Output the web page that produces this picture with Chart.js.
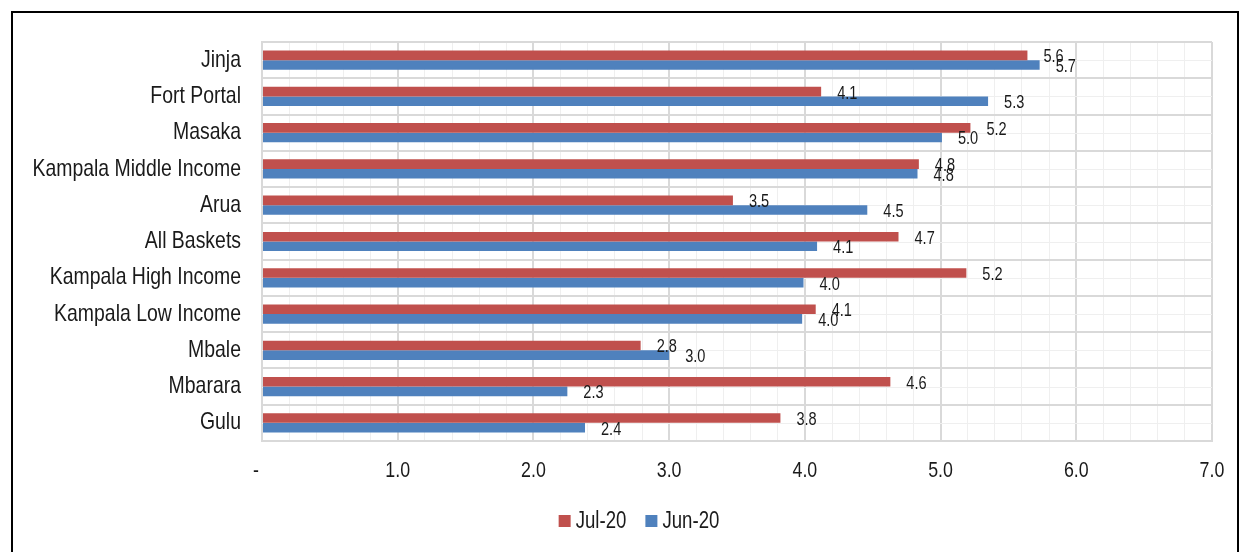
<!DOCTYPE html>
<html>
<head>
<meta charset="utf-8">
<script src="https://cdn.jsdelivr.net/npm/chart.js@4.4.1/dist/chart.umd.min.js"></script>
<style>
    html, body { margin: 0; padding: 0; background: #fff; }
    #contenedor { position: relative; width: 1248px; height: 552px; overflow: hidden; }
    #marco { position: absolute; left: 11px; top: 11px; width: 1224px; height: 600px; border: 2px solid #000; pointer-events: none; }
</style>
</head>
<body>
<div id="contenedor">
    <canvas id="barChart"></canvas>
    <div id="marco"></div>
</div>
<script>
// Datos
const categorias = ['Jinja', 'Fort Portal', 'Masaka', 'Kampala Middle Income', 'Arua', 'All Baskets',
    'Kampala High Income', 'Kampala Low Income', 'Mbale', 'Mbarara', 'Gulu'];
const jul20 = [5.64, 4.12, 5.22, 4.84, 3.47, 4.69, 5.19, 4.08, 2.79, 4.63, 3.82];
const jun20 = [5.73, 5.35, 5.01, 4.83, 4.46, 4.09, 3.99, 3.98, 3.0, 2.25, 2.38];
const etiquetasJul = ['5.6', '4.1', '5.2', '4.8', '3.5', '4.7', '5.2', '4.1', '2.8', '4.6', '3.8'];
const etiquetasJun = ['5.7', '5.3', '5.0', '4.8', '4.5', '4.1', '4.0', '4.0', '3.0', '2.3', '2.4'];
const ticksX = [0, 1, 2, 3, 4, 5, 6, 7];
const etiquetasX = ['-', '1.0', '2.0', '3.0', '4.0', '5.0', '6.0', '7.0'];
const series = ['Jul-20', 'Jun-20'];
const colores = ['#C0504D', '#4F81BD'];

// No hay Arial Narrow: se estrecha Liberation Sans a mano
const fuente = '"Liberation Sans", Arial, sans-serif';
const estrechez = 0.81;
const colorTexto = '#1a1a1a';

function textoEstrecho(ctx, texto, x, y, tam, alinear) {
    ctx.save();
    ctx.translate(x, y);
    ctx.scale(estrechez, 1);
    ctx.font = tam + 'px ' + fuente;
    ctx.fillStyle = colorTexto;
    ctx.textAlign = alinear;
    ctx.textBaseline = 'middle';
    ctx.fillText(texto, 0, 0);
    ctx.restore();
}

function anchoEstrecho(ctx, texto, tam) {
    ctx.save();
    ctx.font = tam + 'px ' + fuente;
    const w = ctx.measureText(texto).width * estrechez;
    ctx.restore();
    return w;
}

// Líneas claras en el centro de cada categoría
const lineasCentro = {
    id: 'lineasCentro',
    beforeDatasetsDraw(chart) {
        const ctx = chart.ctx;
        const area = chart.chartArea;
        const y = chart.scales.y;
        ctx.save();
        ctx.strokeStyle = '#efefef';
        ctx.lineWidth = 1;
        categorias.forEach((c, i) => {
            const py = Math.round(y.getPixelForValue(i)) + 0.5;
            ctx.beginPath();
            ctx.moveTo(area.left, py);
            ctx.lineTo(area.right, py);
            ctx.stroke();
        });
        ctx.restore();
    }
};

// Etiquetas de los ejes
const etiquetasEjes = {
    id: 'etiquetasEjes',
    afterDraw(chart) {
        const ctx = chart.ctx;
        const x = chart.scales.x;
        const y = chart.scales.y;
        categorias.forEach((c, i) => {
            textoEstrecho(ctx, c, chart.chartArea.left - 21, y.getPixelForValue(i), 24, 'right');
        });
        ticksX.forEach((v, i) => {
            const dx = v === 0 ? -6 : 0;
            textoEstrecho(ctx, etiquetasX[i], x.getPixelForValue(v) + dx, chart.chartArea.bottom + 30, 22, 'center');
        });
    }
};

// Etiquetas de valores al final de cada barra
const etiquetasValores = {
    id: 'etiquetasValores',
    afterDatasetsDraw(chart) {
        const ctx = chart.ctx;
        chart.data.datasets.forEach((ds, d) => {
            const meta = chart.getDatasetMeta(d);
            meta.data.forEach((barra, i) => {
                textoEstrecho(ctx, ds.etiquetas[i], barra.x + 16, barra.y + 2, 18, 'left');
            });
        });
    }
};

// Leyenda dibujada a mano (cuadro pegado al texto, como en Excel)
const leyenda = {
    id: 'leyenda',
    afterDraw(chart) {
        const ctx = chart.ctx;
        const caja = 12, hueco = 5, separacion = 19, tam = 23;
        const anchos = series.map(s => anchoEstrecho(ctx, s, tam));
        const total = anchos.reduce((a, b) => a + b, 0) + series.length * (caja + hueco) + separacion * (series.length - 1);
        let x = 639 - total / 2;
        const y = 521;
        series.forEach((s, i) => {
            ctx.fillStyle = colores[i];
            ctx.fillRect(x, y - caja / 2, caja, caja);
            x += caja + hueco;
            textoEstrecho(ctx, s, x, y + 1, tam, 'left');
            x += anchos[i] + separacion;
        });
    }
};

const ctx = document.getElementById('barChart').getContext('2d');
new Chart(ctx, {
    type: 'bar',
    data: {
        labels: categorias,
        datasets: [{
            label: series[0],
            data: jul20,
            etiquetas: etiquetasJul,
            backgroundColor: colores[0],
            categoryPercentage: 0.53,
            barPercentage: 1.0
        }, {
            label: series[1],
            data: jun20,
            etiquetas: etiquetasJun,
            backgroundColor: colores[1],
            categoryPercentage: 0.53,
            barPercentage: 1.0
        }]
    },
    options: {
        indexAxis: 'y',
        responsive: true,
        maintainAspectRatio: false,
        animation: false,
        layout: { padding: { top: 42, right: 36, bottom: 49, left: 0 } },
        scales: {
            x: {
                min: 0,
                max: 7,
                ticks: { stepSize: 0.2, autoSkip: false, display: false },
                grid: {
                    drawTicks: false,
                    color: c => (c.tick && Math.abs(c.tick.value - Math.round(c.tick.value)) < 1e-6) ? '#d9d9d9' : '#efefef',
                    lineWidth: c => (c.tick && Math.abs(c.tick.value - Math.round(c.tick.value)) < 1e-6) ? 2 : 1
                },
                border: { color: '#d9d9d9', width: 2 },
                afterFit: s => { s.height = 62; }
            },
            y: {
                ticks: { display: false },
                grid: { drawTicks: false, color: '#d9d9d9', lineWidth: 2, offset: true },
                border: { color: '#d9d9d9', width: 2 },
                afterFit: s => { s.width = 262; }
            }
        },
        plugins: {
            legend: { display: false },
            tooltip: { enabled: false }
        }
    },
    plugins: [lineasCentro, etiquetasValores, etiquetasEjes, leyenda]
});
</script>
</body>
</html>
